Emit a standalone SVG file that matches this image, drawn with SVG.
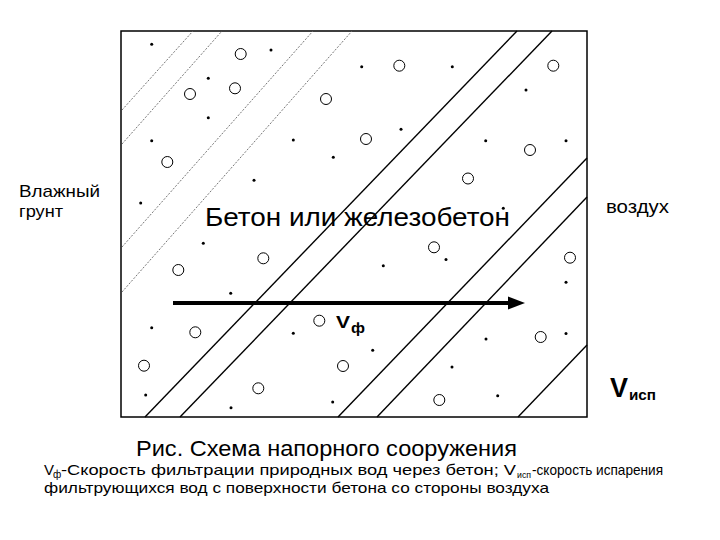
<svg xmlns="http://www.w3.org/2000/svg" width="720" height="540" viewBox="0 0 720 540">
<style>
text{font-family:"Liberation Sans",Arial,sans-serif;fill:#000}
.dl{stroke:#666;stroke-width:0.9;stroke-dasharray:2 1.5;fill:none}
.sl{stroke:#000;stroke-width:1.4;fill:none}
.c{fill:none;stroke:#000;stroke-width:1}
.d{fill:#000}
</style>
<rect width="720" height="540" fill="#fff"/>
<g id="wall">
<rect x="121" y="31" width="466" height="386" fill="none" stroke="#000" stroke-width="1.5"/>
</g>
<g id="hatching">
<line class="dl" x1="122" y1="110" x2="193" y2="31"/>
<line class="dl" x1="122" y1="144" x2="222" y2="31"/>
<line class="dl" x1="122" y1="247" x2="313" y2="31"/>
<line class="dl" x1="122" y1="292" x2="352" y2="31"/>
<line class="sl" x1="145" y1="417" x2="517" y2="31"/>
<line class="sl" x1="180" y1="417" x2="552" y2="31"/>
<line class="sl" x1="338" y1="417" x2="587" y2="158"/>
<line class="sl" x1="377" y1="417" x2="587" y2="197"/>
<line class="sl" x1="518" y1="417" x2="587" y2="345"/>
</g>
<g id="pores">
<circle class="c" cx="240.7" cy="54" r="5.5"/>
<circle class="c" cx="190" cy="94" r="5.5"/>
<circle class="c" cx="235" cy="88.3" r="5.5"/>
<circle class="c" cx="326" cy="99" r="5.5"/>
<circle class="c" cx="167.3" cy="162" r="5.5"/>
<circle class="c" cx="399.3" cy="65.7" r="5.5"/>
<circle class="c" cx="553.3" cy="65.7" r="5.5"/>
<circle class="c" cx="366" cy="139" r="5.5"/>
<circle class="c" cx="530" cy="150" r="5.5"/>
<circle class="c" cx="468" cy="178.5" r="5.5"/>
<circle class="c" cx="570" cy="257.7" r="5.5"/>
<circle class="c" cx="263.3" cy="258.3" r="5.5"/>
<circle class="c" cx="178.3" cy="270" r="5.5"/>
<circle class="c" cx="319.3" cy="320.7" r="5.5"/>
<circle class="c" cx="195.3" cy="332.3" r="5.5"/>
<circle class="c" cx="144" cy="365.7" r="5.5"/>
<circle class="c" cx="343" cy="366" r="5.5"/>
<circle class="c" cx="258.3" cy="388.3" r="5.5"/>
<circle class="c" cx="434" cy="247.3" r="5.5"/>
<circle class="c" cx="540.7" cy="337" r="5.5"/>
<circle class="c" cx="439.3" cy="400" r="5.5"/>
<circle class="d" cx="151.7" cy="44.3" r="1.5"/>
<circle class="d" cx="271" cy="50" r="1.5"/>
<circle class="d" cx="208.3" cy="78.3" r="1.5"/>
<circle class="d" cx="208.3" cy="117.7" r="1.5"/>
<circle class="d" cx="151.7" cy="140.7" r="1.5"/>
<circle class="d" cx="293.3" cy="140" r="1.5"/>
<circle class="d" cx="333.3" cy="157.3" r="1.5"/>
<circle class="d" cx="254" cy="180.3" r="1.5"/>
<circle class="d" cx="140.7" cy="203" r="1.5"/>
<circle class="d" cx="361.7" cy="66.7" r="1.5"/>
<circle class="d" cx="452.3" cy="66.7" r="1.5"/>
<circle class="d" cx="526" cy="90" r="1.5"/>
<circle class="d" cx="401" cy="129.3" r="1.5"/>
<circle class="d" cx="485.7" cy="140.7" r="1.5"/>
<circle class="d" cx="566" cy="140.7" r="1.5"/>
<circle class="d" cx="503.3" cy="208.3" r="1.5"/>
<circle class="d" cx="446" cy="259.5" r="1.5"/>
<circle class="d" cx="203.3" cy="243.3" r="1.5"/>
<circle class="d" cx="230.7" cy="293.3" r="1.5"/>
<circle class="d" cx="151.7" cy="327.7" r="1.5"/>
<circle class="d" cx="293.3" cy="333.3" r="1.5"/>
<circle class="d" cx="145.7" cy="395" r="1.5"/>
<circle class="d" cx="332.7" cy="402" r="1.5"/>
<circle class="d" cx="231" cy="407.7" r="1.5"/>
<circle class="d" cx="383.3" cy="265.7" r="1.5"/>
<circle class="d" cx="566" cy="282.3" r="1.5"/>
<circle class="d" cx="486" cy="339" r="1.5"/>
<circle class="d" cx="566" cy="333.5" r="1.5"/>
<circle class="d" cx="372.7" cy="350.3" r="1.5"/>
<circle class="d" cx="452" cy="367" r="1.5"/>
<circle class="d" cx="497.7" cy="395.7" r="1.5"/>
</g>
<g id="connectors">
<line x1="173" y1="303" x2="510" y2="303" stroke="#000" stroke-width="4"/>
<polygon points="508,296.5 525,303 508,309.5" fill="#000"/>
</g>
<g id="labels">
<text x="19" y="196.7" font-size="17" textLength="81" lengthAdjust="spacingAndGlyphs">Влажный</text>
<text x="19" y="216.7" font-size="17" textLength="44" lengthAdjust="spacingAndGlyphs">грунт</text>
<text x="205" y="226" font-size="26" textLength="305" lengthAdjust="spacingAndGlyphs">Бетон или железобетон</text>
<text x="606" y="212.7" font-size="18" textLength="63" lengthAdjust="spacingAndGlyphs">воздух</text>
<text x="336" y="328" font-size="17" font-weight="bold" textLength="14" lengthAdjust="spacingAndGlyphs">V</text>
<text x="351" y="333" font-size="14" font-weight="bold" textLength="14" lengthAdjust="spacingAndGlyphs">ф</text>
<text x="610" y="396.7" font-size="27" font-weight="bold">V</text>
<text x="629" y="400" font-size="15" font-weight="bold" textLength="27" lengthAdjust="spacingAndGlyphs">исп</text>
<text x="136" y="456" font-size="22" textLength="381" lengthAdjust="spacingAndGlyphs">Рис. Схема напорного сооружения</text>
<text x="44" y="475" font-size="15">V</text>
<text x="53" y="478" font-size="10">ф</text>
<text x="61" y="475" font-size="15" textLength="455" lengthAdjust="spacingAndGlyphs">-Скорость фильтрации природных вод через бетон; V</text>
<text x="517" y="478" font-size="9" textLength="14" lengthAdjust="spacingAndGlyphs">исп</text>
<text x="532" y="475" font-size="15" textLength="131" lengthAdjust="spacingAndGlyphs">-скорость испарения</text>
<text x="44" y="493" font-size="15" textLength="505" lengthAdjust="spacingAndGlyphs">фильтрующихся вод с поверхности бетона со стороны воздуха</text>
</g>
</svg>
